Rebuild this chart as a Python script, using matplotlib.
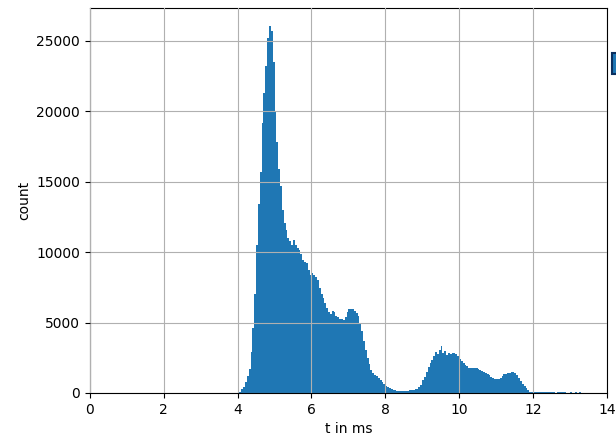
import numpy as np
import matplotlib
matplotlib.use('Agg')
import matplotlib.pyplot as plt

# histogram counts, bins of 0.05 ms starting at 4.0 ms
bin_start = 4.0
bin_width = 0.05
counts = [
    30, 100, 250, 400, 750, 1200, 1700, 2900, 4600, 7000,          # 4.00 - 4.45
    10500, 13400, 15700, 19200, 21300, 23200, 25200, 26050, 25700, 23500,  # 4.50 - 4.95
    20000, 17800, 15900, 14700, 13000, 12100, 11600, 11000, 10800, 10500,  # 5.00 - 5.45
    10900, 10500, 10300, 10150, 9900, 9450, 9300, 9200, 8700, 8400,     # 5.50 - 5.95
    8500, 8350, 8250, 8000, 7450, 7050, 6750, 6400, 6050, 5750,        # 6.00 - 6.45
    5600, 5800, 5750, 5500, 5400, 5250, 5220, 5200, 5400, 5750,        # 6.50 - 6.95
    6000, 6000, 5950, 5850, 5650, 5450, 5000, 4400, 3700, 3050,        # 7.00 - 7.45
    2500, 2050, 1650, 1450, 1300, 1200, 1050, 900, 750, 650,           # 7.50 - 7.95
    520, 420, 340, 260, 210, 180, 170, 160, 150, 145,                  # 8.00 - 8.45
    150, 160, 170, 190, 210, 240, 260, 300, 400, 600,                  # 8.50 - 8.95
    900, 1150, 1500, 1850, 2100, 2350, 2600, 2900, 2800, 3050,         # 9.00 - 9.45
    3350, 2850, 2950, 2700, 2820, 2800, 2820, 2850, 2800, 2650,        # 9.50 - 9.95
    2400, 2250, 2100, 1980, 1900, 1800, 1750, 1760, 1740, 1760,        # 10.00 - 10.45
    1720, 1650, 1580, 1510, 1450, 1380, 1260, 1150, 1100, 980,         # 10.50 - 10.95
    970, 1000, 1100, 1200, 1330, 1380, 1420, 1440, 1480, 1500,         # 11.00 - 11.45
    1400, 1250, 1050, 850, 650, 480, 330, 200, 100, 80,                # 11.50 - 11.95
    80, 75, 70, 70, 70, 65, 65, 60, 60, 55,                            # 12.00 - 12.45
    80, 40, 30, 70, 80, 60, 40, 80, 30, 20,                            # 12.50 - 12.95
    75, 20, 10, 60, 10, 50,                                            # 13.00 - 13.25
]

edges = bin_start + bin_width * np.arange(len(counts) + 1)
centers = edges[:-1] + bin_width / 2

fig, ax = plt.subplots(figsize=(6.16, 4.37), dpi=100)
fig.subplots_adjust(left=0.146, right=0.985, top=0.982, bottom=0.1007)

n, b, patches = ax.hist(centers, bins=edges, weights=counts, color='C0')
ax.set_xlim(0, 14)
ax.set_xticks(np.arange(0, 15, 2))
ax.set_xlabel('t in ms')
ax.set_ylabel('count')
ax.grid(True)
ax.set_axisbelow(False)

# legend sits outside the axes, only its handle peeks in at the figure edge
leg = ax.legend([patches[0]], [''], loc='upper left', bbox_to_anchor=(1.0, 0.897),
                borderaxespad=0, handleheight=1.9, frameon=False)
leg.legend_handles[0].set_edgecolor('#0b2f5e')
leg.legend_handles[0].set_linewidth(1.5)

fig.savefig('out.png', dpi=100)
